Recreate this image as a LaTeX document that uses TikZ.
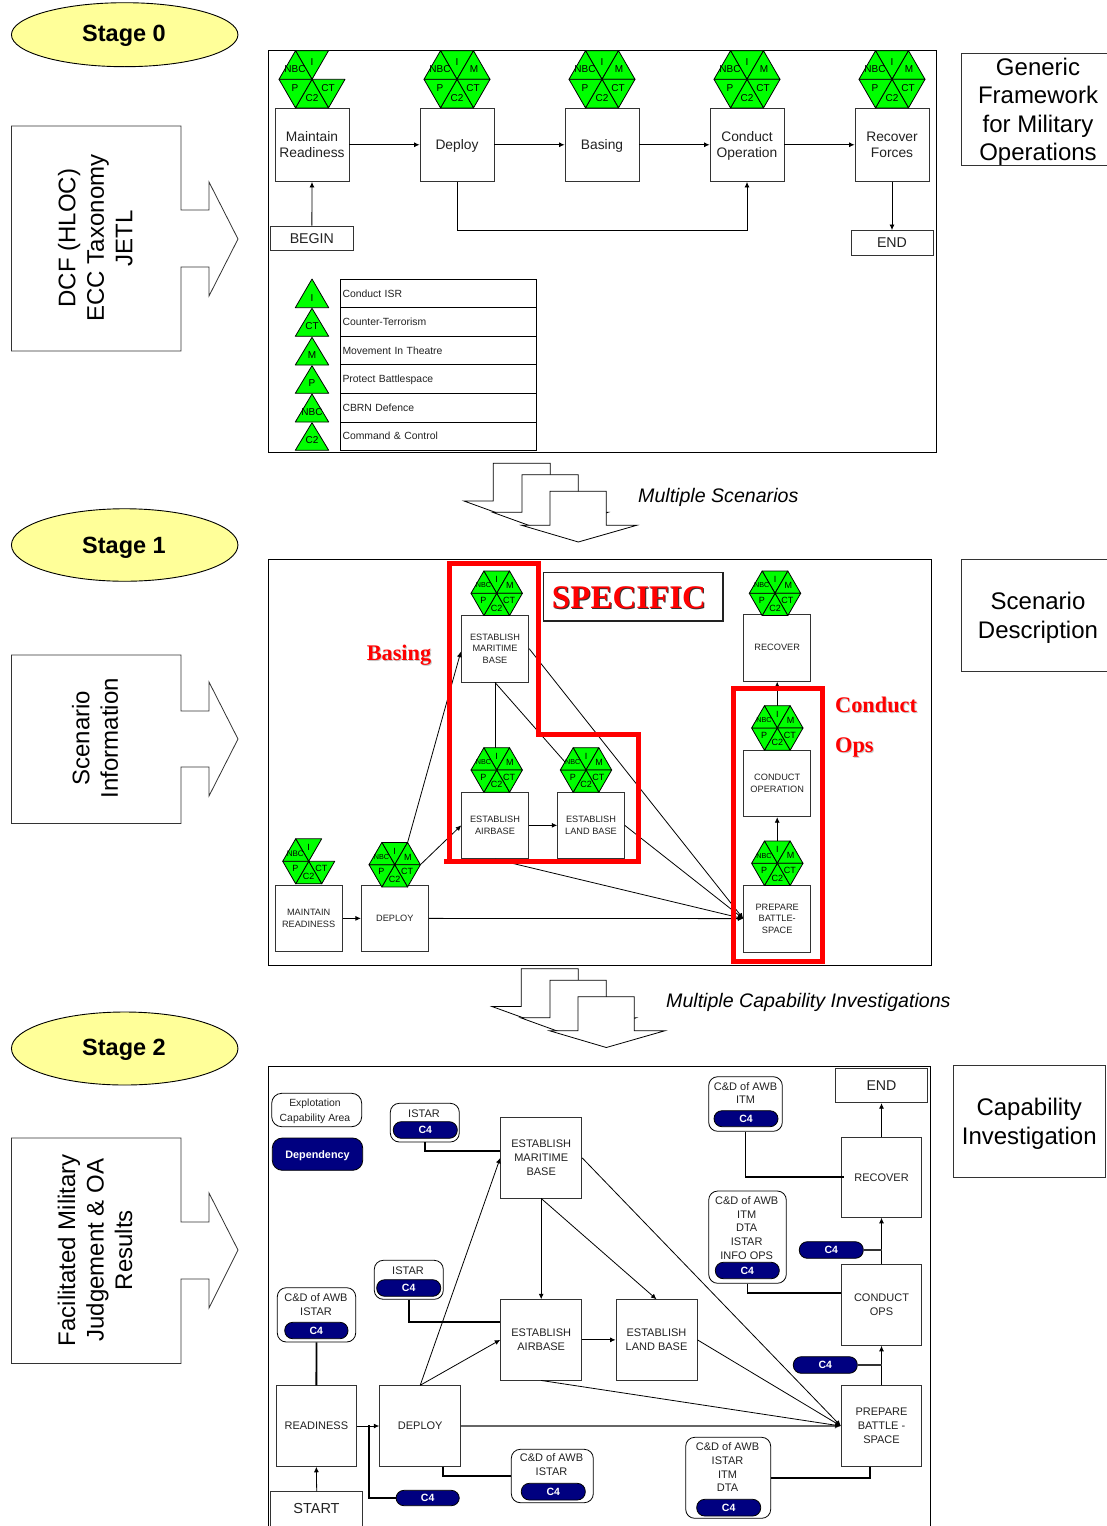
\documentclass[tikz,border=0pt]{standalone}
\usepackage{fontspec}
\setmainfont{Liberation Sans}
\newfontfamily\timesf{Liberation Serif}
\usetikzlibrary{arrows.meta,calc,shapes.geometric}
\definecolor{hexgreen}{HTML}{00FF00}
\definecolor{stageyellow}{HTML}{FFFF99}
\definecolor{navyfill}{HTML}{000080}
\definecolor{inkc}{HTML}{222222}
\definecolor{linec}{HTML}{333333}
\newcommand{\fsz}[2]{\fontsize{#1}{#2}\selectfont}
\newcommand{\nod}[1]{\raisebox{0pt}[\height][0pt]{#1}}
% style, name, x1, y1, x2, y2, text
\newcommand{\bx}[7]{\node[#1,minimum width={(#5)-(#3)},minimum height={(#6)-(#4)}] (#2) at ({(#3+#5)/2},{(#4+#6)/2}) {#7};}
% name, cx, cy, R, size, NBC size, show M
\newcommand{\hexc}[7]{%
\begin{scope}[shift={(#2,#3)},scale=#4/33]
\draw[hexf] (0,0) -- (-16.5,-28.6) -- (16.5,-28.6) -- cycle;
\ifnum#7=1 \draw[hexf] (0,0) -- (16.5,-28.6) -- (33,0) -- cycle;\fi
\draw[hexf] (0,0) -- (33,0) -- (16.5,28.6) -- cycle;
\draw[hexf] (0,0) -- (16.5,28.6) -- (-16.5,28.6) -- cycle;
\draw[hexf] (0,0) -- (-16.5,28.6) -- (-33,0) -- cycle;
\draw[hexf] (0,0) -- (-33,0) -- (-16.5,-28.6) -- cycle;
\node[hexl,font=\fsz{#5}{#5}] (#1i) at (0,-17.7) {I};
\ifnum#7=1 \node[hexl,font=\fsz{#5}{#5}] (#1m) at (17,-10) {M};\fi
\node[hexl,font=\fsz{#5}{#5}] (#1ct) at (16,9) {CT};
\node[hexl,font=\fsz{#5}{#5}] (#1c) at (0,19) {C2};
\node[hexl,font=\fsz{#5}{#5}] (#1p) at (-17,9) {P};
\node[hexl,font=\fsz{#6}{#6}] (#1n) at (-17,-10) {NBC};
\end{scope}}
% name, apex y, base y, label
\newcommand{\legtri}[4]{%
\draw[hexf] (312,#2) -- (328.7,#3) -- (295.3,#3) -- cycle;
\node[hexl,font=\fsz{10}{10}] (#1) at (312,{#3-10}) {#4};}
\newcommand{\multi}[2]{%
\begin{scope}[shift={(#1,#2)}]
\draw[blockl] (493.3,463.3) -- (550.3,463.3) -- (550.3,501) -- (580,501) -- (522,522) -- (464,501) -- (493.3,501) -- cycle;
\draw[blockl] (522,474.7) -- (578.3,474.7) -- (578.3,512.3) -- (608,512.3) -- (550,533) -- (492.7,512.3) -- (522,512.3) -- cycle;
\draw[blockl] (550,491.3) -- (606.3,491.3) -- (606.3,525.3) -- (636.7,525.3) -- (578.3,542) -- (521.7,525.3) -- (550,525.3) -- cycle;
\end{scope}}
% block arrow: top, bottom, notch top, notch bottom, tip top, tip y, tip bottom
\newcommand{\sidearrow}[7]{%
\draw[sidel] (11.5,#1) -- (181,#1) -- (181,#3) -- (209,#3) -- (209,#5) -- (238,#6) -- (209,#7) -- (209,#4) -- (181,#4) -- (181,#2) -- (11.5,#2) -- cycle;}
\begin{document}
\begin{tikzpicture}[x=1pt,y=-1pt,
 boxn/.style={draw=linec,fill=white,line width=0.9pt,inner sep=0pt,align=center,text=inkc},
 bigtxt/.style={boxn,font=\fsz{13.8}{16}},
 midtxt/.style={boxn,font=\fsz{11}{14}},
 smalltxt/.style={boxn,font=\fsz{9.2}{11.5}},
 endbox/.style={boxn,font=\fsz{14.2}{16}},
 sidebox/.style={draw=linec,fill=white,line width=0.8pt,inner sep=0pt,align=center,text=black,font=\fsz{24}{28.6}},
 stagee/.style={ellipse,draw=black,fill=stageyellow,line width=0.9pt,inner sep=0pt,font=\bfseries\fsz{23.5}{26},text=black},
 hexf/.style={fill=hexgreen,draw=black,line width=0.8pt,line join=round},
 hexl/.style={inner sep=0pt,text=black},
 blockl/.style={draw=black,fill=white,line width=0.8pt,line join=miter},
 sidel/.style={draw=linec,fill=white,line width=0.8pt},
 framel/.style={draw=black,line width=1pt},
 conn/.style={draw=black,line width=0.8pt},
 arr/.style={conn,-{Latex[length=5.5pt,width=5pt]}},
 arrg/.style={draw=black!60,line width=1.2pt,-{Latex[length=6pt,width=5.5pt]}},
 thick2/.style={draw=black,line width=1.8pt},
 thinp/.style={draw=linec,line width=1.3pt},
 redl/.style={draw=red,line width=5pt,line join=miter},
 legrow/.style={draw=black,fill=white,line width=0.9pt,inner xsep=2pt,inner ysep=0pt,text width=192pt,align=left,font=\fsz{10.4}{12},text=inkc,text height=9pt,text depth=1.4pt},
 rside/.style={inner sep=0pt,rotate=90,align=center,font=\fsz{24}{28.5},text=black},
 multit/.style={inner sep=0pt,anchor=west,font=\itshape\fsz{19.6}{22},text=black},
 capb/.style={draw=black,fill=white,line width=0.8pt,rounded corners=9pt,inner sep=0pt},
 capt/.style={inner sep=0pt,align=center,font=\fsz{11}{13.7},text=inkc},
 pill/.style={draw=black,fill=navyfill,line width=0.8pt,rounded corners=8pt,inner sep=0pt,text=white,font=\bfseries\fsz{10.5}{12}},
 redt/.style={inner sep=0pt,font=\timesf\bfseries\fsz{22.3}{24},text=red},
 redsh/.style={inner sep=0pt,font=\timesf\bfseries\fsz{22.3}{24},text=black!22},
]
\clip (0,0) rectangle (1107,1526);
\fill[white] (0,0) rectangle (1107,1526);

% ---------- left column
\node[stagee,minimum width=226.5pt,minimum height=64pt] (st0) at (124.7,34.7) {};
\node[inner sep=0pt,font=\bfseries\fsz{23.5}{26}] (st0t) at (124,33) {\nod{Stage 0}};
\node[stagee,minimum width=226.5pt,minimum height=72.5pt] (st1) at (124.7,545) {};
\node[inner sep=0pt,font=\bfseries\fsz{23.5}{26}] (st1t) at (124,545) {\nod{Stage 1}};
\node[stagee,minimum width=226.5pt,minimum height=73pt] (st2) at (124.7,1048.5) {};
\node[inner sep=0pt,font=\bfseries\fsz{23.5}{26}] (st2t) at (124,1047) {\nod{Stage 2}};

\sidearrow{126}{351}{210}{267}{182}{239}{296}
\sidearrow{655}{823.5}{711}{767}{682}{739}{796}
\sidearrow{1138}{1363.5}{1222}{1279}{1193}{1250}{1308}
\node[rside] (lab0) at (95.4,238) {DCF (HLOC)\\ECC Taxonomy\\JETL};
\node[rside] (lab1) at (95,738) {Scenario\\Information};
\node[rside] (lab2) at (95,1250) {Facilitated Military\\Judgement \& OA\\Results};

% ---------- right column
\bx{sidebox}{rb0}{961}{53}{1115}{165.5}{Generic\\Framework\\for Military\\\nod{Operations}}
\bx{sidebox}{rb1}{961}{559}{1115}{671.5}{Scenario\\\nod{Description}}
\bx{sidebox}{rb2}{953}{1065}{1105.5}{1177.5}{Capability\\\nod{Investigation}}

% ---------- between stages
\multi{0}{0}
\node[multit] (ms) at (638,495) {\nod{Multiple Scenarios}};
\multi{28}{505.5}
\node[multit] (mc) at (666,1000) {\nod{Multiple Capability Investigations}};

% ---------- Stage 0 frame
\draw[framel] (268,50) rectangle (936.5,452.5);
\bx{bigtxt}{a0}{275}{108}{349}{181.5}{Maintain\\Readiness}
\bx{bigtxt}{b0}{420}{108}{494}{181.5}{\nod{Deploy}}
\bx{bigtxt}{c0}{565}{108}{639}{181.5}{\nod{Basing}}
\bx{bigtxt}{d0}{710}{108}{784}{181.5}{Conduct\\\nod{Operation}}
\bx{bigtxt}{e0}{855}{108}{929}{181.5}{Recover\\Forces}
\bx{endbox}{beg0}{270.7}{226}{353}{250.7}{BEGIN}
\bx{endbox}{end0}{851}{230.5}{933}{255}{END}
\coordinate (low0) at (600,230.5);
\draw[arr] (a0) -- (b0);
\draw[arr] (b0) -- (c0);
\draw[arr] (c0) -- (d0);
\draw[arr] (d0) -- (e0);
\draw[arr] (beg0.north) -- (a0.south);
\draw[arr] (e0.south) -- (end0.north);
\draw[arr] (b0.south) |- (low0) -| (d0.south);
\hexc{h0a}{312}{79.3}{33}{10}{10}{0}
\hexc{h0b}{457}{79.3}{33}{10}{10}{1}
\hexc{h0c}{602}{79.3}{33}{10}{10}{1}
\hexc{h0d}{747}{79.3}{33}{10}{10}{1}
\hexc{h0e}{892}{79.3}{33}{10}{10}{1}

% legend
\bx{legrow}{lg1}{340.5}{279}{536.5}{307.4}{Conduct ISR}
\bx{legrow}{lg2}{340.5}{307.4}{536.5}{336}{Counter-Terrorism}
\bx{legrow}{lg3}{340.5}{336}{536.5}{364.7}{Movement In Theatre}
\bx{legrow}{lg4}{340.5}{364.7}{536.5}{393.3}{Protect Battlespace}
\bx{legrow}{lg5}{340.5}{393.3}{536.5}{422}{CBRN Defence}
\bx{legrow}{lg6}{340.5}{422}{536.5}{450.3}{Command \& Control}
\legtri{tr1}{279}{307.7}{I}
\legtri{tr2}{308.3}{336.3}{CT}
\legtri{tr3}{337.3}{365}{M}
\legtri{tr4}{365.7}{393.3}{P}
\legtri{tr5}{394}{422}{NBC}
\legtri{tr6}{422.7}{450.3}{C2}

% ---------- Stage 1
\draw[framel] (268,559) rectangle (931,965.5);
\bx{smalltxt}{ma1}{461.3}{615.3}{528.7}{682}{ESTABLISH\\MARITIME\\BASE}
\bx{smalltxt}{re1}{743.7}{614.3}{810.7}{681.3}{RECOVER}
\bx{smalltxt}{ai1}{461.7}{792}{528.3}{858.7}{ESTABLISH\\AIRBASE}
\bx{smalltxt}{la1}{557.7}{792}{624.3}{858.7}{ESTABLISH\\LAND BASE}
\bx{smalltxt}{rd1}{275}{885}{342.3}{951.7}{MAINTAIN\\READINESS}
\bx{smalltxt}{de1}{361.3}{885}{428.3}{951.7}{DEPLOY}
\bx{smalltxt}{co1}{743.7}{750.3}{810.7}{816.7}{CONDUCT\\OPERATION}
\bx{smalltxt}{pr1}{743.7}{885.3}{810.7}{952}{PREPARE\\BATTLE-\\SPACE}
\coordinate (d1top) at (407.6,842.4);
\coordinate (d1right) at (420.4,864.7);
\draw[arr] (rd1) -- (de1);
\draw[arr] (de1) -- (pr1);
\draw[arr] (d1top) -- ([yshift=-3pt]ma1.west);
\draw[arr] (d1right) -- (ai1.west);
\draw[arr] (ai1) -- (la1);
\draw[conn] (ma1.south) -- (ai1.north);
\draw[conn] (ma1.south) -- (la1.north);
\draw[arr] (ma1.east) -- (pr1.west);
\draw[arr] (la1.east) -- (pr1.west);
\draw[arr] (ai1.south) -- (pr1.west);
\draw[arr] (pr1.north) -- (co1.south);
\draw[arr] (co1.north) -- (re1.south);
\hexc{h1a}{496.7}{593.3}{25.7}{9}{7.2}{1}
\hexc{h1b}{775}{593.3}{25.7}{9}{7.2}{1}
\hexc{h1c}{496.7}{770}{25.7}{9}{7.2}{1}
\hexc{h1d}{586}{770}{25.7}{9}{7.2}{1}
\hexc{h1e}{308.7}{861.3}{26}{9}{8}{0}
\hexc{h1f}{394.7}{864.7}{25.7}{9}{7.2}{1}
\hexc{h1g}{777.3}{728}{25.7}{9}{7.2}{1}
\hexc{h1h}{777.3}{863.3}{25.7}{9}{7.2}{1}
% red outlines
\draw[redl] (444,861) -- (638,861) -- (638,734) -- (538,734) -- (538,563) -- (449,563) -- (449,861);
\draw[redl] (733,688) rectangle (822,961);
% specific
\bx{draw=inkc,fill=white,line width=1.6pt}{spb}{543.3}{572.3}{722.7}{621}{}
\node[inner sep=0pt,font=\timesf\bfseries\fsz{33}{36},text=black!80] (spsh) at (630,598.5) {SPECIFIC};
\node[inner sep=0pt,font=\timesf\bfseries\fsz{33}{36},text=red] (spt) at (629,597.5) {SPECIFIC};
\node[redsh] (bash) at (400,654) {\nod{Basing}};
\node[redt] (bast) at (399,653) {\nod{Basing}};
\node[redsh,anchor=west] (cosh) at (836,706) {Conduct};
\node[redt,anchor=west] (cot) at (835,705) {Conduct};
\node[redsh,anchor=west] (opsh) at (836,746) {\nod{Ops}};
\node[redt,anchor=west] (opt) at (835,745) {\nod{Ops}};

% ---------- Stage 2
\draw[framel] (268,1530) -- (268,1066) -- (930,1066) -- (930,1530);
\bx{endbox}{end2}{835.3}{1068.3}{927.7}{1102.7}{END}
\bx{midtxt}{re2}{841.3}{1137.3}{921.7}{1217.3}{RECOVER}
\bx{midtxt}{co2}{841.3}{1264.7}{921.7}{1345.3}{CONDUCT\\OPS}
\bx{midtxt}{pr2}{841.3}{1385.7}{921.7}{1466.3}{PREPARE\\BATTLE -\\SPACE}
\bx{midtxt}{ma2}{500.7}{1117.7}{581.7}{1198}{ESTABLISH\\MARITIME\\BASE}
\bx{midtxt}{ai2}{500.7}{1299.7}{581.7}{1380}{ESTABLISH\\AIRBASE}
\bx{midtxt}{la2}{616}{1299.7}{697}{1380}{ESTABLISH\\LAND BASE}
\bx{midtxt}{rd2}{276}{1385.7}{356.7}{1466.3}{READINESS}
\bx{midtxt}{de2}{379.7}{1385.7}{460.7}{1466.3}{DEPLOY}
\bx{endbox}{st2b}{270.7}{1491.7}{362.7}{1540}{}
\node[inner sep=0pt,font=\fsz{14.5}{16},text=inkc] (startt) at (316.5,1508) {START};

% legend pills
\bx{capb,rounded corners=10pt}{exb}{271.7}{1093.3}{361.7}{1126.7}{}
\node[capt,font=\fsz{10.4}{14.5}] (ext) at (315,1110) {Explotation\\\nod{Capability Area}};
\bx{pill,rounded corners=10pt,font=\bfseries\fsz{10.8}{12}}{dep}{272.3}{1138}{362.7}{1170.3}{\nod{Dependency}}

% capability boxes
\bx{capb}{cb1}{390.3}{1103.3}{459.3}{1142}{}
\node[capt] (cb1t) at (424,1113.6) {ISTAR};
\bx{pill}{cp1}{393.3}{1121.7}{457.3}{1138.3}{C4}

\bx{capb}{cb2}{708.7}{1076.7}{782.3}{1131.3}{}
\node[capt] (cb2t) at (745.5,1093) {C\&D of AWB\\ITM};
\bx{pill}{cp2}{714}{1110.7}{778}{1126.7}{C4}

\bx{capb}{cb3}{708.7}{1191}{786.3}{1283.3}{}
\node[capt] (cb3t) at (746.7,1228) {C\&D of AWB\\ITM\\DTA\\ISTAR\\INFO OPS};
\bx{pill}{cp3}{715.3}{1262.3}{779.3}{1278.7}{C4}

\bx{capb}{cb4}{277.3}{1287.7}{355.7}{1342}{}
\node[capt] (cb4t) at (316,1304.5) {C\&D of AWB\\ISTAR};
\bx{pill}{cp4}{284.7}{1322.3}{348}{1338.7}{C4}

\bx{capb}{cb5}{374.3}{1260.3}{443.3}{1299.3}{}
\node[capt] (cb5t) at (408,1270.6) {ISTAR};
\bx{pill}{cp5}{376.7}{1279.7}{440.7}{1296.3}{C4}

\bx{capb}{cb6}{511.3}{1449.3}{593.3}{1502.7}{}
\node[capt] (cb6t) at (551.5,1464.7) {C\&D of AWB\\ISTAR};
\bx{pill}{cp6}{521.3}{1483.3}{585.3}{1500}{C4}

\bx{capb}{cb7}{685.7}{1437.3}{770.7}{1518.3}{}
\node[capt] (cb7t) at (727.5,1467.2) {C\&D of AWB\\ISTAR\\ITM\\DTA};
\bx{pill}{cp7}{696.7}{1499.3}{760.7}{1516}{C4}

\bx{pill}{cp8}{799.3}{1241.7}{863.3}{1258.3}{C4}
\bx{pill}{cp9}{793.3}{1356.7}{857.3}{1373.3}{C4}
\bx{pill}{cp10}{396}{1490.3}{459.3}{1505.7}{C4}

% connectors stage 2
\coordinate (j2) at (369.3,1425);
\draw[arr] (re2.north) -- (end2.south -| re2.north);
\draw[arr] (co2.north) -- (re2.south);
\draw[arr] (pr2.north) -- (co2.south);
\draw[arr] (st2b.north) -- (rd2.south);
\draw[arr] (rd2) -- (de2);
\draw[arr] (ai2) -- (la2);
\draw[arr] (ma2.south) -- (ai2.north);
\draw[arr] (ma2.south) -- (la2.north);
\draw[arr] (de2.north) -- (ma2.west);
\draw[arr] (de2.north) -- (ai2.west);
\draw[arrg] (de2.east) -- (pr2.west);
\draw[arr] (ma2.east) -- (pr2.west);
\draw[arr] (la2.east) -- (pr2.west);
\draw[arr] (ai2.south) -- (pr2.west);
\draw[thick2] (cb1.south) |- ([yshift=7pt]ma2.west);
\draw[thick2] (cb5.south) |- ([yshift=17.85pt]ai2.west);
\draw[thick2] (cb2.south) |- ([xshift=3pt]re2.west);
\draw[thick2] (cb3.south) |- ([yshift=12.3pt]co2.west);
\draw[thick2] (cb4.south) -- (rd2.north);
\draw[thick2] ([xshift=23.1pt]de2.south) |- (cb6.west);
\draw[thick2] (cb7.east) -| ([xshift=-11.5pt]pr2.south);
\draw[thick2] (j2) |- (cp10.west);
\draw[thinp] (cp8.east) -- (cp8.east -| co2.north);
\draw[thinp] (cp9.east) -- (cp9.east -| pr2.north);
\end{tikzpicture}
\end{document}
